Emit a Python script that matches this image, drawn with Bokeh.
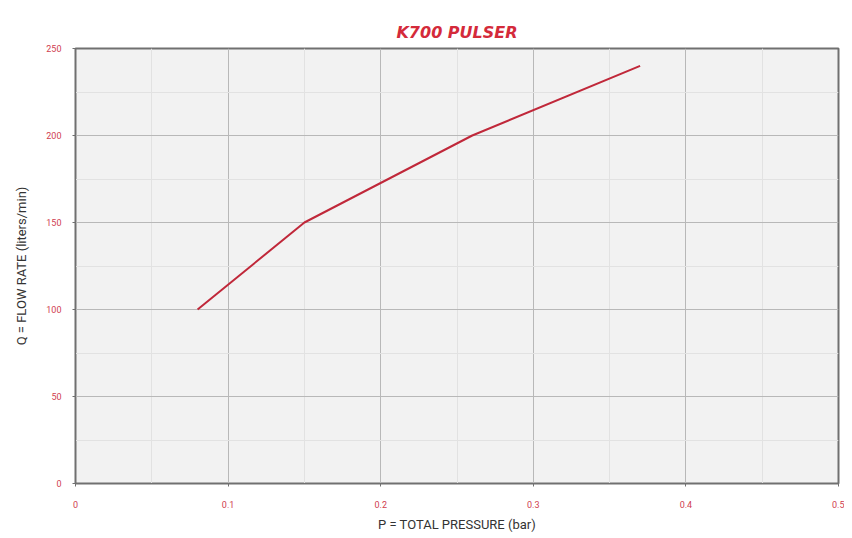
from bokeh.plotting import figure
from bokeh.embed import file_html
from bokeh.resources import INLINE
from bokeh.models import Range1d, FixedTicker

pressure = [0.08, 0.15, 0.26, 0.37]
flow = [100, 150, 200, 240]
x_ticks = [0, 0.1, 0.2, 0.3, 0.4, 0.5]
y_ticks = [0, 50, 100, 150, 200, 250]
title_text = "K700 PULSER"

p = figure(width=844, height=534, output_backend="svg", toolbar_location=None,
           x_range=Range1d(0, 0.5), y_range=Range1d(0, 250),
           min_border_left=75, min_border_right=6, min_border_top=48, min_border_bottom=51)
p.title.text = title_text
p.title.align = "center"
p.title.vertical_align = "top"
p.title.offset = 22
p.title.text_color = "#d42a3a"
p.title.text_font = "DejaVu Sans"
p.title.text_font_style = "bold italic"
p.title.text_font_size = "16px"
p.title.standoff = 10

p.line(pressure, flow, line_color="#c0283a", line_width=2)

p.background_fill_color = "#f2f2f2"
p.border_fill_color = "white"
p.outline_line_color = "#707070"
p.outline_line_width = 2

for ax in (p.xaxis, p.yaxis):
    ax.major_label_text_color = "#d04050"
    ax.major_label_text_font_size = "9px"
    ax.major_label_text_font = "Roboto"
    ax.axis_line_color = "#707070"
    ax.major_tick_line_color = "#707070"
    ax.minor_tick_line_color = None
    ax.major_tick_out = 3
    ax.major_tick_in = 0
    ax.axis_label_text_font = "Roboto"
    ax.axis_label_text_font_style = "normal"
    ax.axis_label_text_font_size = "13px"
    ax.axis_label_text_color = "#333333"

p.xaxis.major_label_standoff = 13
p.xaxis.axis_label_standoff = 6
p.yaxis.major_label_standoff = 10
p.yaxis.axis_label_standoff = 14

p.xaxis.ticker = FixedTicker(ticks=x_ticks, minor_ticks=[0.05, 0.15, 0.25, 0.35, 0.45])
p.yaxis.ticker = FixedTicker(ticks=y_ticks, minor_ticks=[25, 75, 125, 175, 225])
p.xaxis.major_label_overrides = {0: "0"}
p.xaxis.axis_label = "P = TOTAL PRESSURE (bar)"
p.yaxis.axis_label = "Q = FLOW RATE (liters/min)"

p.xgrid.grid_line_color = "#b8b8b8"
p.ygrid.grid_line_color = "#b8b8b8"
p.xgrid.minor_grid_line_color = "#e2e2e2"
p.ygrid.minor_grid_line_color = "#e2e2e2"

open("out.html", "w").write(file_html(p, INLINE))
